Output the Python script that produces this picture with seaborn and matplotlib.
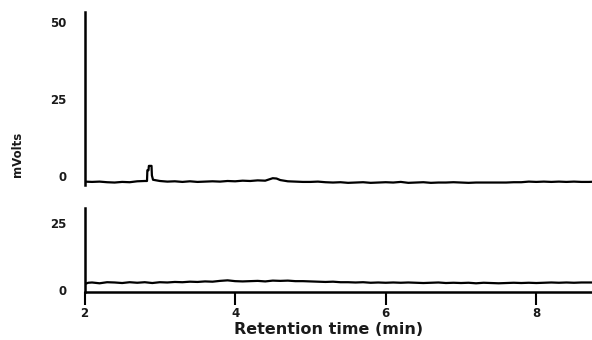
import matplotlib
matplotlib.use("Agg")
import matplotlib.pyplot as plt
import seaborn as sns
import pandas as pd

# ---- data ----
top_time = [2.0, 2.1, 2.2, 2.3, 2.4, 2.5, 2.6, 2.7, 2.8, 2.83, 2.835, 2.85, 2.855, 2.89, 2.895,
            2.91, 3.0, 3.1, 3.2, 3.3, 3.4, 3.5, 3.6, 3.7, 3.8, 3.9, 4.0, 4.1, 4.2, 4.3, 4.4,
            4.5, 4.55, 4.6, 4.7, 4.8, 4.9, 5.0, 5.1, 5.2, 5.3, 5.4, 5.5, 5.6, 5.7, 5.8, 5.9,
            6.0, 6.1, 6.2, 6.3, 6.4, 6.5, 6.6, 6.7, 6.8, 6.9, 7.0, 7.1, 7.2, 7.3, 7.4, 7.5,
            7.6, 7.7, 7.8, 7.9, 8.0, 8.1, 8.2, 8.3, 8.4, 8.5, 8.6, 8.7, 8.8]
top_mv = [-1.8, -1.9, -1.8, -2.0, -2.1, -1.9, -2.0, -1.7, -1.6, -1.6, 1.9, 1.9, 3.3, 3.3, 0.2,
          -1.2, -1.6, -1.8, -1.7, -1.9, -1.7, -1.9, -1.8, -1.7, -1.8, -1.6, -1.7, -1.5, -1.6, -1.4, -1.5,
          -0.7, -0.8, -1.3, -1.7, -1.8, -1.9, -1.9, -1.8, -2.0, -2.1, -2.0, -2.2, -2.1, -2.0, -2.2, -2.1,
          -2.0, -2.1, -1.9, -2.2, -2.1, -2.0, -2.2, -2.1, -2.1, -2.0, -2.1, -2.2, -2.1, -2.1, -2.1, -2.1,
          -2.1, -2.0, -2.0, -1.8, -1.9, -1.8, -1.9, -1.8, -1.9, -1.8, -1.9, -1.9, -1.8]

bottom_time = [2.0, 2.05, 2.1, 2.2, 2.3, 2.4, 2.5, 2.6, 2.7, 2.8, 2.9, 3.0, 3.1, 3.2, 3.3, 3.4,
               3.5, 3.6, 3.7, 3.8, 3.9, 4.0, 4.1, 4.2, 4.3, 4.4, 4.5, 4.6, 4.7, 4.8, 4.9, 5.0,
               5.1, 5.2, 5.3, 5.4, 5.5, 5.6, 5.7, 5.8, 5.9, 6.0, 6.1, 6.2, 6.3, 6.4, 6.5, 6.6,
               6.7, 6.8, 6.9, 7.0, 7.1, 7.2, 7.3, 7.4, 7.5, 7.6, 7.7, 7.8, 7.9, 8.0, 8.1, 8.2,
               8.3, 8.4, 8.5, 8.6, 8.7, 8.8]
bottom_mv = [2.2, 2.7, 2.8, 2.5, 2.9, 2.8, 2.6, 2.9, 2.7, 2.9, 2.6, 2.9, 2.8, 3.0, 2.9, 3.1,
             3.0, 3.2, 3.1, 3.4, 3.6, 3.3, 3.2, 3.3, 3.4, 3.2, 3.5, 3.4, 3.5, 3.3, 3.3, 3.2,
             3.1, 3.0, 3.1, 2.9, 2.9, 2.8, 2.9, 2.7, 2.8, 2.7, 2.8, 2.7, 2.8, 2.7, 2.6, 2.7,
             2.8, 2.6, 2.7, 2.6, 2.7, 2.5, 2.7, 2.6, 2.5, 2.6, 2.7, 2.6, 2.7, 2.6, 2.7, 2.8,
             2.7, 2.8, 2.7, 2.8, 2.8, 2.8]

x_ticks = [2, 4, 6, 8]
top_yticks = [0, 25, 50]
bottom_yticks = [0, 25]
x_label = "Retention time (min)"
y_label = "mVolts"

# ---- plotting ----
sns.set_style("white")
plt.rcParams["font.family"] = ["DejaVu Sans"]
TXT = "#1a1a1a"

fig = plt.figure(figsize=(5.92, 3.40), dpi=100)
W, H = 592, 340
ax_top = fig.add_axes([84.5 / W, 1 - 185 / H, 1 - 84.5 / W, (185 - 12) / H])
ax_bot = fig.add_axes([84.5 / W, 1 - 292 / H, 1 - 84.5 / W, (292 - 208) / H])

df_top = pd.DataFrame({"t": top_time, "mv": top_mv})
df_bot = pd.DataFrame({"t": bottom_time, "mv": bottom_mv})
sns.lineplot(data=df_top, x="t", y="mv", ax=ax_top, color="black", linewidth=1.6, estimator=None)
sns.lineplot(data=df_bot, x="t", y="mv", ax=ax_bot, color="black", linewidth=1.6, estimator=None)

xmax = 2 + (592 - 84.5) / 75.3
for ax in (ax_top, ax_bot):
    ax.set_xlim(2, xmax)
    ax.set_xlabel("")
    ax.set_ylabel("")
    for s in ("top", "right"):
        ax.spines[s].set_visible(False)
    ax.spines["left"].set_linewidth(1.8)
    ax.spines["left"].set_color("black")
    ax.tick_params(axis="y", length=0, pad=13, labelsize=8.5, labelcolor=TXT)

ax_top.spines["bottom"].set_visible(False)
ax_top.set_xticks([])
ax_top.set_ylim(-2.9, 53.2)
ax_top.set_yticks(top_yticks)
ax_top.set_yticklabels([str(v) for v in top_yticks], fontweight="bold")

ax_bot.spines["bottom"].set_linewidth(1.8)
ax_bot.spines["bottom"].set_color("black")
ax_bot.set_ylim(-0.75, 30.6)
ax_bot.set_yticks(bottom_yticks)
ax_bot.set_yticklabels([str(v) for v in bottom_yticks], fontweight="bold")
ax_bot.set_xticks(x_ticks)
ax_bot.set_xticklabels([str(v) for v in x_ticks], fontweight="bold")
ax_bot.tick_params(axis="x", direction="out", length=9, width=1.5, color="black",
                   pad=1.5, labelsize=8.5, labelcolor=TXT, bottom=True)

fig.text(329 / W, 1 - 329 / H, x_label, ha="center", va="center",
         fontsize=11.5, fontweight="bold", color=TXT)
fig.text(18 / W, 1 - 154 / H, y_label, rotation=90, ha="center", va="center",
         fontsize=8.5, fontweight="bold", color=TXT)

fig.savefig("out.png", dpi=100)
